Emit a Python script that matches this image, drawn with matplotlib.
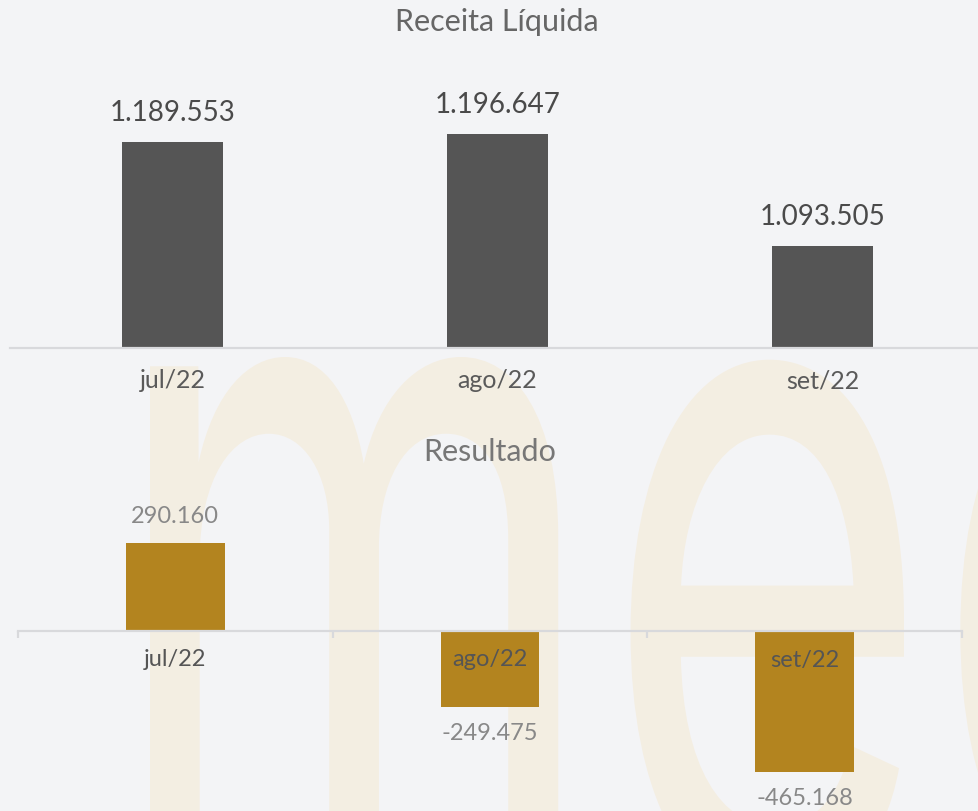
import numpy as np
import matplotlib
matplotlib.use('Agg')
import matplotlib.pyplot as plt
from matplotlib.font_manager import FontProperties
from matplotlib.textpath import TextPath
from matplotlib.patches import PathPatch
from matplotlib.transforms import Affine2D

months = ['jul/22', 'ago/22', 'set/22']
receita = [1189553, 1196647, 1093505]
resultado = [290160, -249475, -465168]


def fmt(v):
    # brazilian thousands separator
    return f'{v:,}'.replace(',', '.')


plt.rcParams['font.family'] = ['Lato', 'DejaVu Sans']
BG = '#f3f4f6'
W, H = 979, 811
fig = plt.figure(figsize=(W / 100, H / 100), dpi=100, facecolor=BG)
PX = 72 / 100  # points per pixel

# watermark "mec" behind everything
bg = fig.add_axes([0, 0, 1, 1], zorder=0)
bg.set_xlim(0, W)
bg.set_ylim(H, 0)
bg.axis('off')
prop = FontProperties(family='Inter', weight='regular')
tp = TextPath((0, 0), 'mec', size=100, prop=prop)
ext_me = TextPath((0, 0), 'me', size=100, prop=prop).get_extents()
ext = tp.get_extents()
base = 890
sx = (904 - 150) / (ext_me.x1 - ext_me.x0)
sy = (base - 357) / ext.y1
tr = Affine2D().translate(-ext_me.x0, 0).scale(sx, -sy).translate(150, base)
bg.add_patch(PathPatch(tr.transform_path(tp), fc='#f3eee2', ec='none'))

x = np.arange(len(months))

# top chart
ax1 = fig.add_axes([10 / W, (H - 348) / H, 975 / W, 288 / H], zorder=2)
ax1.patch.set_alpha(0)
ax1.bar(x, receita, width=0.31, color='#555555')
ax1.set_xlim(-0.5, 2.5)
ax1.set_ylim(1e6, 1e6 + 288 * 919)
for s in ['top', 'left', 'right']:
    ax1.spines[s].set_visible(False)
ax1.spines['bottom'].set_color('#d8d9dc')
ax1.spines['bottom'].set_linewidth(1.6)
ax1.set_xticks([])
ax1.set_yticks([])
for i, v in enumerate(receita):
    ax1.annotate(fmt(v), (i, v), xytext=(0, 29 * PX), textcoords='offset points',
                 ha='center', va='center', fontsize=20, color='#4a4a4a')
    ax1.annotate(months[i], (i, 1e6), xytext=(0, -33 * PX), textcoords='offset points',
                 ha='center', va='center', fontsize=18, color='#5a5a5a',
                 annotation_clip=False)
fig.text(497 / W, 1 - 22 / H, 'Receita Líquida', ha='center', va='center',
         fontsize=22, color='#666666')

# bottom chart
ax2 = fig.add_axes([18 / W, (H - 800) / H, 944 / W, 320 / H], zorder=2)
ax2.patch.set_alpha(0)
ax2.bar(x, resultado, width=0.314, color='#b3841f')
ax2.set_xlim(-0.5, 2.5)
ax2.set_ylim(-169 * 3300, 151 * 3300)
for s in ['top', 'left', 'right']:
    ax2.spines[s].set_visible(False)
ax2.spines['bottom'].set_position(('data', 0))
ax2.spines['bottom'].set_color('#d8d9dc')
ax2.spines['bottom'].set_linewidth(1.6)
ax2.set_xticks([-0.5, 0.5, 1.5, 2.5])
ax2.tick_params(axis='x', direction='out', length=5, width=1.6, color='#d8d9dc',
                labelbottom=False)
ax2.set_yticks([])
for i, v in enumerate(resultado):
    off = 27 if v > 0 else -27
    ax2.annotate(fmt(v), (i, v), xytext=(0, off * PX), textcoords='offset points',
                 ha='center', va='center', fontsize=17, color='#888888',
                 annotation_clip=False)
    ax2.annotate(months[i], (i, 0), xytext=(0, -29 * PX), textcoords='offset points',
                 ha='center', va='center', fontsize=17, color='#555555')
fig.text(490 / W, 1 - 452 / H, 'Resultado', ha='center', va='center',
         fontsize=22, color='#777777')

fig.savefig('out.png', dpi=100, facecolor=BG)
